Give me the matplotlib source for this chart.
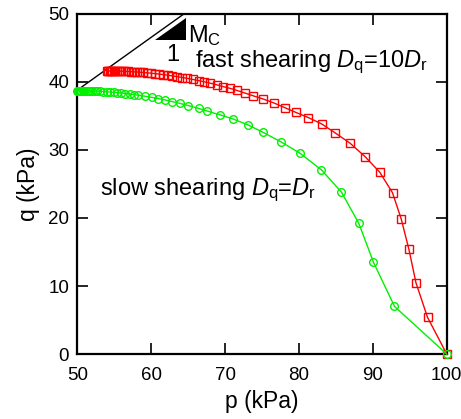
import matplotlib
matplotlib.use('Agg')
import matplotlib.pyplot as plt

plt.rcParams['font.family'] = ['Liberation Sans', 'DejaVu Sans']
plt.rcParams['mathtext.fontset'] = 'custom'
plt.rcParams['mathtext.rm'] = 'Liberation Sans'
plt.rcParams['mathtext.it'] = 'Liberation Sans:italic'

# fast shearing Dq = 10 Dr
p_fast = [54.0, 54.1, 54.2, 54.35, 54.5, 54.7, 54.9, 55.1, 55.35, 55.6, 55.9, 56.2,
          56.5, 56.85, 57.2, 57.6, 58.0, 58.45, 58.9, 59.4, 59.9, 60.45, 61.0, 61.6,
          62.2, 62.85, 63.5, 64.2, 64.9, 65.6, 66.4, 67.2, 68.0, 68.86, 69.76, 70.66,
          71.57, 72.7, 73.8, 75.1, 76.6, 78.1, 79.6, 81.27, 83.1, 84.9, 86.9, 88.96,
          90.95, 92.66, 93.84, 94.88, 95.83, 97.4, 100.0]
q_fast = [41.6, 41.6, 41.6, 41.6, 41.6, 41.6, 41.59, 41.59, 41.58, 41.58, 41.57, 41.56,
          41.54, 41.53, 41.51, 41.48, 41.45, 41.42, 41.38, 41.33, 41.28, 41.22, 41.15, 41.07,
          40.98, 40.88, 40.77, 40.64, 40.51, 40.36, 40.19, 40.0, 39.8, 39.57, 39.3, 39.05,
          38.75, 38.35, 37.95, 37.5, 36.9, 36.2, 35.5, 34.75, 33.8, 32.5, 31.0, 29.0,
          26.7, 23.7, 19.85, 15.4, 10.5, 5.4, 0.0]

# slow shearing Dq = Dr
p_slow = [50.0, 50.1, 50.2, 50.35, 50.5, 50.7, 50.9, 51.15, 51.4, 51.7, 52.0, 52.35,
          52.7, 53.1, 53.5, 53.95, 54.4, 54.9, 55.4, 55.95, 56.5, 57.1, 57.65, 58.2,
          59.1, 60.05, 60.95, 61.9, 62.8, 63.9, 65.0, 66.4, 67.6, 69.3, 71.03, 73.06,
          75.1, 77.53, 80.15, 83.04, 85.75, 88.1, 90.08, 92.93, 100.0]
q_slow = [38.7, 38.7, 38.7, 38.7, 38.7, 38.7, 38.69, 38.69, 38.68, 38.67, 38.66, 38.65,
          38.63, 38.61, 38.58, 38.55, 38.51, 38.47, 38.42, 38.36, 38.29, 38.21, 38.13, 38.05,
          37.9, 37.72, 37.54, 37.33, 37.11, 36.83, 36.52, 36.1, 35.7, 35.15, 34.56, 33.7,
          32.6, 31.2, 29.5, 27.06, 23.8, 19.2, 13.5, 7.0, 0.0]

# critical state line q = Mc * p
Mc = 0.776
p_csl = [50.0, 64.5]

fig = plt.figure(figsize=(4.61, 4.19), dpi=100)
ax = fig.add_axes([0.168, 0.155, 0.801, 0.812])

ax.plot(p_csl, [Mc * v for v in p_csl], color='black', lw=1.0)
ax.fill([60.5, 64.7, 64.7], [46.1, 46.1, 46.1 + Mc * 4.2], color='black', lw=0)
ax.text(62.9, 43.9, '1', fontsize=17, ha='center', va='center')
ax.text(65.0, 46.8, r'M$_\mathrm{C}$', fontsize=17, ha='left', va='center')

ax.plot(p_fast, q_fast, color='#ff0000', lw=1.0, marker='s', ms=5.5,
        mfc='none', mec='#ff0000', mew=1.0, clip_on=False, zorder=3)
ax.plot(p_slow, q_slow, color='#00f000', lw=1.0, marker='o', ms=5.5,
        mfc='none', mec='#00f000', mew=1.0, clip_on=False, zorder=3)

ax.text(65.9, 42.9, r'fast shearing $D_\mathrm{q}$=10$D_\mathrm{r}$', fontsize=17,
        ha='left', va='center')
ax.text(53.0, 24.1, r'slow shearing $D_\mathrm{q}$=$D_\mathrm{r}$', fontsize=17,
        ha='left', va='center')

ax.set_xlim(50, 100)
ax.set_ylim(0, 50)
ax.set_xticks(range(50, 101, 10))
ax.set_yticks(range(0, 51, 10))
ax.tick_params(direction='in', length=8, width=1.2, top=True, right=True,
               labelsize=13.5, pad=6)
ax.tick_params(axis='x', pad=9)
for s in ax.spines.values():
    s.set_linewidth(1.6)
ax.set_xlabel('p (kPa)', fontsize=16.5, labelpad=5)
ax.set_ylabel('q (kPa)', fontsize=16.5, labelpad=6)

plt.savefig('out.png', dpi=100)
plt.close()
